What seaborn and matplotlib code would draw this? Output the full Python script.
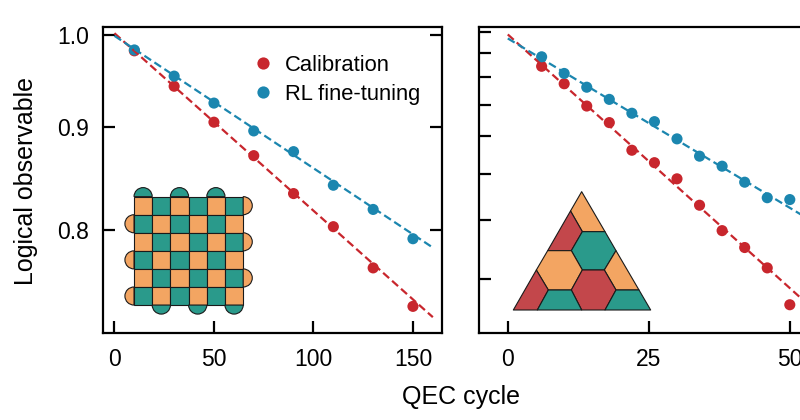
import matplotlib
matplotlib.use("Agg")
import matplotlib.pyplot as plt
from matplotlib import ticker
from matplotlib.patches import Rectangle, Wedge, Polygon
import numpy as np
import pandas as pd
import seaborn as sns

# ---- data ----
methods = ["Calibration", "RL fine-tuning"]

# left panel: surface code
cycles_surface = [10, 30, 50, 70, 90, 110, 130, 150]
calib_surface = [0.982, 0.943, 0.905, 0.871, 0.834, 0.803, 0.766, 0.733]
rl_surface = [0.983, 0.954, 0.925, 0.896, 0.875, 0.842, 0.819, 0.792]
fit_x_surface = [0, 160]
fit_calib_surface = [1.002, 0.724]
fit_rl_surface = [0.999, 0.784]

# right panel: color code
cycles_color = [6, 10, 14, 18, 22, 26, 30, 34, 38, 42, 46, 50]
calib_color = [0.845, 0.776, 0.696, 0.642, 0.561, 0.528, 0.488, 0.429,
               0.379, 0.349, 0.316, 0.264]
rl_color = [0.885, 0.816, 0.763, 0.719, 0.672, 0.645, 0.593, 0.545,
            0.519, 0.480, 0.445, 0.441]
fit_x_color = [0, 55]
fit_calib_color = [0.987, 0.253]
fit_rl_color = [0.968, 0.390]

left_ticks = [0.8, 0.9, 1.0]
right_ticks = [0.3, 0.4, 0.5, 0.6, 0.7, 0.8, 0.9, 1.0]

RED = "#C8262D"
BLUE = "#1B86AF"
ORANGE = "#F3A562"
TEAL = "#2A9A8B"
BRICK = "#C3474B"
palette = {"Calibration": RED, "RL fine-tuning": BLUE}

sns.set_theme(style="ticks")
plt.rcParams["font.family"] = ["Liberation Sans", "DejaVu Sans"]
plt.rcParams["axes.linewidth"] = 1.6
plt.rcParams["text.color"] = "black"

W, H = 800, 420
fig = plt.figure(figsize=(8, 4.2), dpi=100)


def px_axes(x0, y0, x1, y1):
    # pixel box (top-left origin) -> figure axes
    return fig.add_axes([x0 / W, 1 - y1 / H, (x1 - x0) / W, (y1 - y0) / H])


def long_df(x, a, b):
    return pd.DataFrame({
        "cycle": list(x) * 2,
        "value": list(a) + list(b),
        "method": [methods[0]] * len(a) + [methods[1]] * len(b),
    })


def panel(ax, x, calib, rl, fx, fcal, frl, legend):
    ax.set_yscale("log")
    sns.scatterplot(data=long_df(x, calib, rl), x="cycle", y="value",
                    hue="method", palette=palette, s=64, linewidth=0,
                    zorder=3, legend=legend, ax=ax)
    sns.lineplot(x=fx, y=fcal, color=RED, lw=1.6, linestyle=(0, (3.6, 1.8)),
                 zorder=4, ax=ax)
    sns.lineplot(x=fx, y=frl, color=BLUE, lw=1.6, linestyle=(0, (3.6, 1.8)),
                 zorder=4, ax=ax)
    ax.set_xlabel("")
    ax.set_ylabel("")
    ax.tick_params(direction="in", length=8.5, width=1.6, labelsize=16.5,
                   color="black", labelcolor="black")
    ax.tick_params(axis="x", pad=10.5)
    ax.tick_params(axis="y", pad=10.5)
    ax.yaxis.set_minor_locator(ticker.NullLocator())
    for s in ax.spines.values():
        s.set_color("black")


# left panel
ax1 = px_axes(103.3, 26.7, 442.0, 333.0)
panel(ax1, cycles_surface, calib_surface, rl_surface,
      fit_x_surface, fit_calib_surface, fit_rl_surface, legend=True)
ax1.set_xlim(-5.6, 164.6)
ax1.set_ylim(0.711, 1.0095)
ax1.set_xticks([0, 50, 100, 150])
ax1.yaxis.set_major_locator(ticker.FixedLocator(left_ticks))
ax1.yaxis.set_major_formatter(ticker.FixedFormatter([f"{v:.1f}" for v in left_ticks]))
ax1.tick_params(axis="y", right=True)
h, l = ax1.get_legend_handles_labels()
ax1.legend(h, l, loc="upper left", bbox_to_anchor=(0.381, 0.958), frameon=False,
           fontsize=15.8, handlelength=1.4, handletextpad=0.3, labelspacing=0.36,
           markerscale=1.1, borderpad=0.2)

# right panel (runs past the right edge of the canvas)
ax2 = px_axes(479.3, 26.7, 818.0, 333.0)
panel(ax2, cycles_color, calib_color, rl_color,
      fit_x_color, fit_calib_color, fit_rl_color, legend=False)
ax2.set_xlim(-5.05, 55.0)
ax2.set_ylim(0.23, 1.025)
ax2.set_xticks([0, 25, 50])
ax2.yaxis.set_major_locator(ticker.FixedLocator(right_ticks))
ax2.yaxis.set_major_formatter(ticker.NullFormatter())

fig.text(33.3 / W, 1 - 180.8 / H, "Logical observable", rotation=90,
         rotation_mode="anchor", ha="center", va="baseline", fontsize=18)
fig.text(460.8 / W, 1 - 404 / H, "QEC cycle", ha="center", va="baseline",
         fontsize=18)

# ---- inset: surface-code patch ----
ins1 = px_axes(123.1, 185.8, 254.1, 315.9)
ins1.set_xlim(-0.6, 6.6)
ins1.set_ylim(-0.6, 6.6)
ins1.axis("off")
ek = dict(edgecolor="#1a1a1a", linewidth=0.8)
n = 6
for r in range(n):
    for c in range(n):
        col = ORANGE if (r + c) % 2 == 0 else TEAL
        ins1.add_patch(Rectangle((c, n - 1 - r), 1, 1, facecolor=col, **ek))
for c in (0, 2, 4):
    ins1.add_patch(Wedge((c + 0.5, n), 0.5, 0, 180, facecolor=TEAL, **ek))
for c in (1, 3, 5):
    ins1.add_patch(Wedge((c + 0.5, 0), 0.5, 180, 360, facecolor=TEAL, **ek))
for r in (1, 3, 5):
    ins1.add_patch(Wedge((0, n - 0.5 - r), 0.5, 90, 270, facecolor=ORANGE, **ek))
for r in (0, 2, 4):
    ins1.add_patch(Wedge((n, n - 0.5 - r), 0.5, -90, 90, facecolor=ORANGE, **ek))

# ---- inset: triangular colour code (coords in a 465x405 box, y down) ----
ins2 = px_axes(505, 180, 660, 315)
ins2.set_xlim(0, 465)
ins2.set_ylim(405, 0)
ins2.axis("off")
V = {
    "A": (230, 35), "BL": (25, 390), "BR": (437, 390),
    "L1": (196.5, 93), "L2": (128, 212), "L3": (94, 270),
    "R1": (300, 155), "R2": (333, 212), "R3": (402, 330),
    "P1": (232, 155), "P2": (199, 212), "P3": (298, 270), "P4": (232, 270),
    "P5": (199, 330), "P6": (130, 330), "P7": (333, 330),
    "B1": (97, 390), "B2": (230, 390), "B3": (300, 390),
}
tiles = [
    (["A", "L1", "P1", "R1"], ORANGE),
    (["L1", "P1", "P2", "L2"], BRICK),
    (["P1", "R1", "R2", "P3", "P4", "P2"], TEAL),
    (["L2", "P2", "P4", "P5", "P6", "L3"], ORANGE),
    (["R2", "P3", "P7", "R3"], ORANGE),
    (["P4", "P3", "P7", "B3", "B2", "P5"], BRICK),
    (["L3", "P6", "B1", "BL"], BRICK),
    (["P6", "P5", "B2", "B1"], TEAL),
    (["P7", "R3", "BR", "B3"], TEAL),
]
for names, col in tiles:
    ins2.add_patch(Polygon([V[k] for k in names], closed=True, facecolor=col,
                           edgecolor="#1a1a1a", linewidth=0.8, joinstyle="round"))

fig.savefig("out.png", dpi=100)
